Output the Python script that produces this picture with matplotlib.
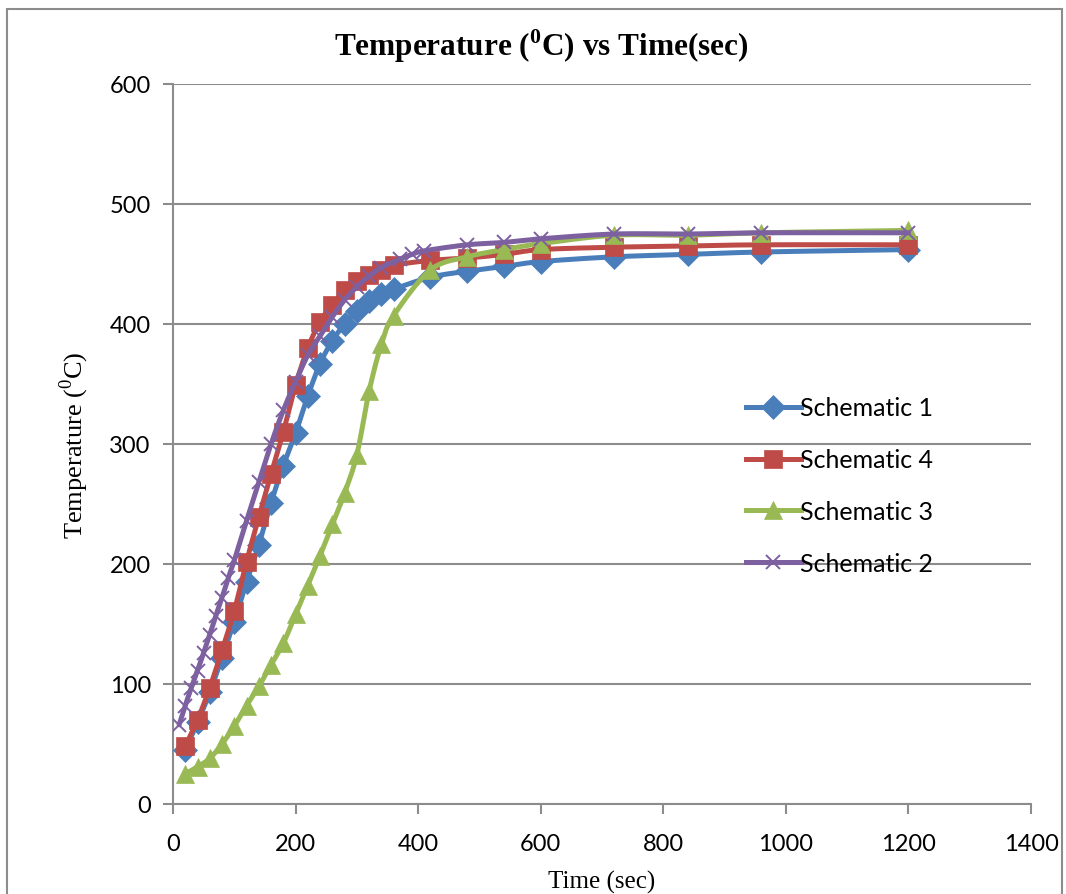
###################################################
# temperature vs time for four schematics
###################################################
import numpy as np
import matplotlib.pyplot as plt
from matplotlib.patches import Rectangle

# data
time_a = [20, 40, 60, 80, 100, 120, 140, 160, 180, 200, 220, 240, 260, 280,
          300, 320, 340, 360, 420, 480, 540, 600, 720, 840, 960, 1200]
schematic_1 = [45, 68, 93, 122, 152, 185, 216, 251, 282, 309, 340, 367, 386,
               400, 411, 419, 425, 429, 439, 444, 448, 452, 456, 458, 460, 462]
schematic_4 = [48, 70, 97, 128, 161, 202, 239, 275, 310, 349, 380, 402, 416,
               428, 436, 441, 445, 449, 453, 455, 458, 462, 464, 465, 466, 466]
schematic_3 = [25, 31, 38, 50, 65, 82, 98, 116, 134, 158, 182, 207, 233, 259,
               291, 344, 383, 407, 445, 456, 462, 467, 474, 474, 476, 478]

time_b = [10, 20, 30, 40, 50, 60, 70, 80, 90, 100, 120, 140, 160, 180, 200,
          220, 240, 260, 280, 300, 320, 340, 370, 390, 410, 480, 540, 600,
          720, 840, 960, 1200]
schematic_2 = [66, 82, 97, 111, 126, 141, 157, 172, 188, 203, 236, 268, 300,
               328, 352, 374, 390, 406, 420, 431, 440, 447, 454, 458, 461,
               466, 468, 471, 475, 475, 476, 476]

labels = ["Schematic 1", "Schematic 4", "Schematic 3", "Schematic 2"]
colors = ["#4A7EBB", "#BE4B48", "#98B954", "#7D60A0"]


# excel style smoothed line (bezier through the points)
def smooth(x, y, steps=16):
    p = np.column_stack([x, y]).astype(float)
    ext = np.vstack([p[0], p, p[-1]])
    out = [p[0]]
    t = np.linspace(0, 1, steps + 1)[1:, None]
    for i in range(len(p) - 1):
        p0, p3 = ext[i + 1], ext[i + 2]
        c1 = p0 + (ext[i + 2] - ext[i]) / 6
        c2 = p3 - (ext[i + 3] - ext[i + 1]) / 6
        seg = ((1 - t) ** 3) * p0 + 3 * ((1 - t) ** 2) * t * c1 \
            + 3 * (1 - t) * t ** 2 * c2 + t ** 3 * p3
        out.extend(seg)
    out = np.array(out)
    return out[:, 0], out[:, 1]


plt.rcParams['mathtext.fontset'] = 'custom'
plt.rcParams['mathtext.rm'] = 'Liberation Serif'
plt.rcParams['mathtext.bf'] = 'Liberation Serif:bold'

fig = plt.figure(figsize=(10.66, 8.95), dpi=100)
ax = fig.add_axes([173 / 1066, 1 - 805 / 895, 858 / 1066, 720 / 895])

series = [(time_a, schematic_1, 'D', 12), (time_a, schematic_4, 's', 13.5),
          (time_a, schematic_3, '^', 13.5), (time_b, schematic_2, 'x', 10.5)]

for i, (x, y, m, ms) in enumerate(series):
    sx, sy = smooth(x, y)
    ax.plot(sx, sy, color=colors[i], lw=3.6, solid_capstyle='round',
            zorder=3 + i * 2)
    ax.plot(x, y, ls='none', marker=m, ms=ms, color=colors[i],
            mec=colors[i], mew=1.4 if m == 'x' else 0.5, zorder=4 + i * 2)
    # legend proxy
    ax.plot([], [], color=colors[i], lw=3.6, marker=m, ms=ms,
            mew=1.4 if m == 'x' else 0.5, label=labels[i])

ax.set_xlim(0, 1400)
ax.set_ylim(0, 600)
ax.set_xticks(range(0, 1401, 200))
ax.set_yticks(range(0, 601, 100))
ax.yaxis.grid(True, color='#8c8c8c', lw=1.5)
ax.set_axisbelow(True)
for s in ['top', 'right']:
    ax.spines[s].set_visible(False)
for s in ['left', 'bottom']:
    ax.spines[s].set_color('#8c8c8c')
    ax.spines[s].set_linewidth(1.5)
ax.tick_params(colors='#8c8c8c', width=1.5, length=7, labelcolor='black',
               labelsize=17)
ax.tick_params(axis='x', pad=14)
ax.tick_params(axis='y', pad=9)
for lab in ax.get_xticklabels() + ax.get_yticklabels():
    lab.set_family('Lato')

ax.set_xlabel('Time (sec)', family='Liberation Serif', fontsize=18,
              labelpad=11)
ax.set_ylabel(r'Temperature ($^{0}$C)', family='Liberation Serif',
              fontsize=19, labelpad=13)

fig.text(541 / 1066, 1 - 46 / 895, r'Temperature ($^{\mathbf{0}}$C) vs Time(sec)',
         ha='center', va='center', family='Liberation Serif',
         fontweight='bold', fontsize=22.5)

leg = ax.legend(loc='upper left', bbox_to_anchor=(723 / 1066, 1 - 375 / 895),
                bbox_transform=fig.transFigure, frameon=False, numpoints=1,
                handlelength=2.2, handletextpad=0.0, labelspacing=1.15,
                prop={'family': 'Lato', 'size': 18})

# outer chart border
fig.patches.append(Rectangle((7 / 1066, -0.05), 1055 / 1066, 1 - 10 / 895 + 0.05,
                             transform=fig.transFigure, fill=False,
                             edgecolor='#8c8c8c', lw=1.5))

fig.savefig('out.png', dpi=100)
